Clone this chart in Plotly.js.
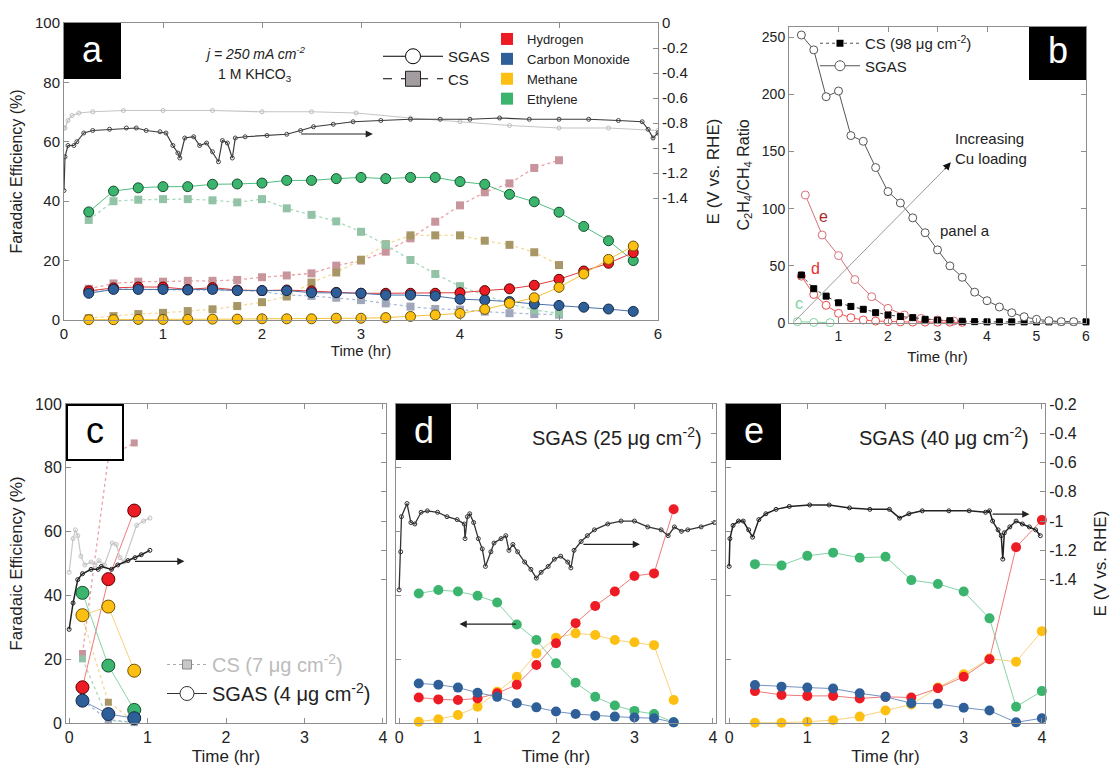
<!DOCTYPE html>
<html><head><meta charset="utf-8">
<script src="https://cdn.plot.ly/plotly-3.0.1.min.js"></script>
<style>html,body{margin:0;padding:0;background:#fff}#chart{width:1110px;height:771px}</style>
</head><body><div id="chart"></div>
<script>
// ---------------- DATA ----------------
// Panel a: SGAS (circles) and CS (squares) Faradaic efficiencies (%)
const tA_sgas = [0.25,0.5,0.75,1.0,1.25,1.5,1.75,2.0,2.25,2.5,2.75,3.0,3.25,3.5,3.75,4.0,4.25,4.5,4.75,5.0,5.25,5.5,5.75];
const feA_sgas_h2   = [9.8,10.8,11.1,11.1,10.3,10.9,10.1,9.9,10.1,9.8,9.3,9.0,9.0,9.0,9.0,9.2,9.9,10.5,11.7,13.7,16.5,19.1,22.7];
const feA_sgas_co   = [9.0,10.3,10.3,10.3,10.1,10.3,9.9,9.9,9.9,9.2,9.2,9.0,8.4,8.4,8.1,7.0,6.7,6.2,5.4,4.9,4.3,3.7,2.9];
const feA_sgas_ch4  = [0.1,0.1,0.2,0.2,0.2,0.3,0.3,0.4,0.4,0.4,0.6,0.6,0.8,1.2,1.7,2.2,3.6,5.6,7.5,11.0,15.5,20.4,24.9];
const feA_sgas_c2h4 = [36.4,43.4,44.5,44.9,44.9,45.7,45.8,46.1,47.0,47.0,47.6,48.0,47.6,48.0,48.0,46.6,45.7,42.3,39.8,36.3,31.5,26.7,20.0];
const tA_cs = [0.25,0.5,0.75,1.0,1.25,1.5,1.75,2.0,2.25,2.5,2.75,3.0,3.25,3.5,3.75,4.0,4.25,4.5,4.75,5.0];
const feA_cs_h2   = [10.5,12.3,12.9,12.9,13.2,13.2,13.5,14.4,15.0,15.7,18.3,20.0,23.0,27.5,33.1,38.6,43.0,46.0,51.2,53.8];
const feA_cs_co   = [9.6,10.5,10.3,10.1,10.1,10.1,10.1,9.6,8.4,8.1,7.5,6.7,5.6,4.5,3.7,3.5,2.8,2.3,2.0,1.8];
const feA_cs_ch4  = [0.6,1.3,2.0,2.4,3.0,3.6,4.7,6.0,7.9,12.6,16.0,20.3,25.5,28.5,28.5,28.5,26.7,25.3,22.8,18.5];
const feA_cs_c2h4 = [33.7,40.0,40.5,40.7,40.7,40.3,39.6,40.7,37.6,35.4,33.2,29.7,25.3,20.2,15.5,11.4,8.4,5.4,3.4,2.2];
// Panel a: potentials (V vs RHE)
const tA_E_sgas = [0,0.01,0.04,0.1,0.13,0.2,0.29,0.46,0.63,0.73,0.83,0.97,1.03,1.1,1.15,1.17,1.22,1.31,1.37,1.44,1.5,1.56,1.6,1.65,1.7,1.73,1.83,2.05,2.25,2.39,2.52,2.72,2.92,3.2,3.5,3.8,4.1,4.4,4.7,5.0,5.3,5.6,5.84,5.9,5.95,6.0];
const eA_sgas = [-1.34,-1.07,-0.98,-0.98,-0.95,-0.88,-0.86,-0.85,-0.84,-0.84,-0.86,-0.87,-0.88,-0.98,-1.04,-1.08,-0.92,-0.91,-0.98,-0.96,-1.03,-1.11,-0.94,-0.96,-1.08,-0.92,-0.91,-0.90,-0.89,-0.86,-0.83,-0.81,-0.79,-0.78,-0.77,-0.77,-0.77,-0.76,-0.77,-0.77,-0.77,-0.78,-0.79,-0.85,-0.92,-0.88];
const tA_E_cs = [0,0.01,0.04,0.08,0.15,0.29,0.6,1.0,1.5,2.0,2.5,2.95,3.5,4.0,4.5,5.0,5.5,6.0];
const eA_cs = [-0.84,-0.84,-0.78,-0.74,-0.72,-0.71,-0.70,-0.70,-0.70,-0.71,-0.71,-0.72,-0.76,-0.79,-0.82,-0.84,-0.84,-0.86];
const eA_ticks = [0,-0.2,-0.4,-0.6,-0.8,-1,-1.2,-1.4];
const eA_tickText = ['0','-0.2','-0.4','-0.6','-0.8','-1','-1.2','-1.4'];

// Panel b: C2H4/CH4 ratio
const tB_cs = [0.25,0.5,0.75,1.0,1.25,1.5,1.75,2.0,2.25,2.5,2.75,3.0,3.25,3.5,3.75,4.0,4.25,4.5,4.75,5.0,5.25,5.5,5.75,6.0];
const ratioB_cs = [42,30,23.5,17.7,14.5,12,9,7,5.7,4.7,3.2,2.5,2.0,1.5,1.2,1,1,1,1,1,1,1,1,1];
const tB_sgas = [0.25,0.5,0.75,1.0,1.25,1.5,1.75,2.0,2.25,2.5,2.75,3.0,3.25,3.5,3.75,4.0,4.25,4.5,4.75,5.0,5.25,5.5,5.75];
const ratioB_sgas = [252,239,198,203,164,159,136,115,105,92,79,64,50,40,27,19.5,14,9,5.5,3.2,2,1.2,1.2];
const tB_e = [0.33,0.67,1.0,1.33,1.67,2.0,2.33,2.67,3.0,3.33];
const ratioB_e = [112,77,59,38,23,12.8,7,4,2.6,1.7];
const tB_d = [0.25,0.5,0.75,1.0,1.25,1.5,1.75,2.0,2.25,2.5,2.75,3.0,3.25,3.5];
const ratioB_d = [41,25,15.5,8.5,4.6,2.6,1.7,1.2,1.0,0.8,0.8,0.7,0.7,0.6];
const tB_c = [0.17,0.5,0.83];
const ratioB_c = [1.2,0.5,0.3];

// Panel c: SGAS (4 ug) and CS (7 ug)
const tC = [0.17,0.5,0.83];
const feC_sgas_h2 = [11.2,45.1,66.6];
const feC_sgas_co = [7.0,2.8,1.5];
const feC_sgas_ch4 = [33.8,36.5,16.4];
const feC_sgas_c2h4 = [40.8,18.0,4.1];
const feC_cs_h2 = [21.8,83.3,87.8];
const feC_cs_co = [7.0,1.0,0.2];
const feC_cs_ch4 = [33.0,6.5,0.5];
const feC_cs_c2h4 = [20.1,0.8,0.1];
const tC_E_sgas = [0,0.05,0.11,0.17,0.28,0.37,0.41,0.54,0.62,0.75,0.84,0.92,1.03];
const eC_sgas = [-1.74,-1.56,-1.40,-1.36,-1.33,-1.33,-1.31,-1.33,-1.30,-1.27,-1.25,-1.23,-1.20];
const tC_E_cs = [0,0.05,0.08,0.11,0.15,0.2,0.28,0.33,0.38,0.45,0.55,0.6,0.65,0.7,0.86,0.95,1.03];
const eC_cs = [-1.35,-1.12,-1.06,-1.10,-1.24,-1.30,-1.28,-1.30,-1.27,-1.30,-1.15,-1.16,-1.25,-1.28,-1.03,-1.00,-0.98];

// Panel d: SGAS (25 ug)
const tD = [0.25,0.5,0.75,1.0,1.25,1.5,1.75,2.0,2.25,2.5,2.75,3.0,3.25,3.5];
const feD_h2 = [8.0,7.4,7.2,7.7,9.3,12.0,18.2,25.0,31.3,36.7,41.2,46.1,46.9,67.0];
const feD_co = [12.4,12.0,11.1,9.5,8.2,6.2,4.9,3.6,2.8,2.3,2.0,1.7,1.5,0.2];
const feD_ch4 = [0.4,1.2,2.5,5.1,9.8,14.5,21.8,26.7,28.1,27.6,26.0,25.3,24.4,7.2];
const feD_c2h4 = [40.6,41.7,41.2,39.9,37.8,30.9,26.0,18.7,12.6,8.2,5.5,3.8,2.8,0.2];
const tD_E = [0,0.02,0.03,0.1,0.15,0.2,0.28,0.36,0.49,0.61,0.74,0.83,0.84,0.87,0.9,0.95,1.01,1.06,1.1,1.17,1.21,1.3,1.36,1.4,1.45,1.51,1.6,1.68,1.75,1.81,1.9,1.98,2.06,2.15,2.19,2.23,2.32,2.4,2.49,2.66,2.83,3.0,3.17,3.34,3.43,3.51,3.6,3.68,3.85,4.02];
const eD = [-1.47,-1.21,-0.97,-0.88,-1.01,-1.02,-0.94,-0.93,-0.94,-0.97,-0.99,-1.02,-1.12,-0.97,-0.95,-1.01,-1.12,-1.19,-1.31,-1.21,-1.15,-1.12,-1.10,-1.20,-1.16,-1.21,-1.28,-1.33,-1.39,-1.35,-1.31,-1.26,-1.24,-1.28,-1.32,-1.20,-1.14,-1.10,-1.06,-1.02,-1.00,-1.00,-1.04,-1.06,-1.10,-1.04,-1.07,-1.06,-1.04,-1.01];

// Panel e: SGAS (40 ug)
const tE = [0.33,0.67,1.0,1.33,1.67,2.0,2.33,2.67,3.0,3.33,3.67,4.0];
const feE_h2 = [10.0,8.8,8.5,8.5,7.7,8.2,8.0,10.9,14.5,20.0,55.1,63.6];
const feE_co = [11.9,11.4,11.1,10.8,9.3,8.2,6.2,6.0,4.8,3.9,0.2,1.5];
const feE_ch4 = [0.1,0.1,0.4,0.9,2.0,3.9,5.8,11.1,15.3,20.2,19.2,28.8];
const feE_c2h4 = [49.8,49.4,52.4,53.4,51.8,52.1,44.8,43.6,41.2,32.8,5.1,10.0];
const tE_E = [0,0.01,0.05,0.12,0.18,0.25,0.3,0.38,0.47,0.6,0.77,1.03,1.28,1.54,1.8,2.05,2.18,2.3,2.47,2.81,3.07,3.28,3.33,3.37,3.44,3.48,3.5,3.52,3.59,3.67,3.75,3.84,3.92,3.98];
const eE = [-1.31,-1.12,-1.03,-1.00,-1.00,-1.06,-1.11,-0.99,-0.95,-0.92,-0.90,-0.89,-0.89,-0.91,-0.92,-0.92,-0.98,-0.95,-0.93,-0.93,-0.93,-0.94,-0.93,-1.00,-1.06,-1.10,-1.26,-1.08,-1.04,-1.00,-1.02,-1.04,-1.06,-1.10];
const eCDE_ticks = [-0.2,-0.4,-0.6,-0.8,-1,-1.2,-1.4];
const eCDE_tickText = ['-0.2','-0.4','-0.6','-0.8','-1','-1.2','-1.4'];

const productNames = ['Hydrogen','Carbon Monoxide','Methane','Ethylene'];

// ---------------- STYLE ----------------
const F = 'Liberation Sans, Arial, Helvetica, sans-serif';
const W = 1110, H = 771;
const dx = (a,b) => [a/W, b/W];
const dy = (top,bot) => [1-bot/H, 1-top/H];
const px = x => x/W, py = y => 1-y/H;

const COL = {h2:'#ed1c24', co:'#2f5f98', ch4:'#fdbf12', c2h4:'#3bb56e'};
const EDGE = {h2:'#5a0000', co:'#15294a', ch4:'#6e5200', c2h4:'#15502e'};
const LINE = {h2:'#e23a3a', co:'#4a74aa', ch4:'#f2c33a', c2h4:'#4fbf80'};
const LIGHTLINE = {h2:'#f07a7a', co:'#7391c0', ch4:'#f7d27a', c2h4:'#86d3a6'};
const CSFILL = {h2:'#c9959c', co:'#a0a7ba', ch4:'#a89766', c2h4:'#93c3a6'};
const CSLINE = {h2:'#eba0a4', co:'#a8bcd8', ch4:'#f3d994', c2h4:'#a6d9bb'};

const traces = [];
function pot(x,y,xa,ya,col,mcol,w){
  traces.push({type:'scatter',mode:'lines+markers',x:x,y:y,xaxis:xa,yaxis:ya,
    line:{color:col,width:w||1.2},marker:{symbol:'circle-open',size:4,color:mcol,line:{width:1}},
    showlegend:false,hoverinfo:'skip'});
}
function sgas(x,y,xa,ya,k,size,edge,lc){
  traces.push({type:'scatter',mode:'lines+markers',x:x,y:y,xaxis:xa,yaxis:ya,cliponaxis:false,
    line:{color:lc,width:1},marker:{symbol:'circle',size:size,color:COL[k],line:{color:edge?EDGE[k]:COL[k],width:edge?1:0}},
    showlegend:false});
}
function cs(x,y,xa,ya,k,size){
  traces.push({type:'scatter',mode:'lines+markers',x:x,y:y,xaxis:xa,yaxis:ya,cliponaxis:false,
    line:{color:CSLINE[k],width:1.3,dash:'dot'},marker:{symbol:'square',size:size,color:CSFILL[k],line:{color:CSFILL[k],width:0}},
    showlegend:false});
}

// Panel a
pot(tA_E_cs,eA_cs,'x','y2','#c4c4c4','#bdbdbd',1.2);
pot(tA_E_sgas,eA_sgas,'x','y2','#3a3a3a','#444',1.2);
cs(tA_cs,feA_cs_h2,'x','y','h2',8);
cs(tA_cs,feA_cs_co,'x','y','co',8);
cs(tA_cs,feA_cs_ch4,'x','y','ch4',8);
cs(tA_cs,feA_cs_c2h4,'x','y','c2h4',8);
sgas(tA_sgas,feA_sgas_c2h4,'x','y','c2h4',10,true,LINE.c2h4);
sgas(tA_sgas,feA_sgas_h2,'x','y','h2',10,true,LINE.h2);
sgas(tA_sgas,feA_sgas_co,'x','y','co',10,true,LINE.co);
sgas(tA_sgas,feA_sgas_ch4,'x','y','ch4',10,true,LINE.ch4);

// Panel b
function ratio(x,y,sym,size,col,fill,dash,lc){
  traces.push({type:'scatter',mode:'lines+markers',x:x,y:y,xaxis:'x2',yaxis:'y3',cliponaxis:false,
    line:{color:lc,width:1,dash:dash},marker:{symbol:sym,size:size,color:fill,line:{color:col,width:1}},showlegend:false});
}
ratio(tB_c,ratioB_c,'circle',8,'#7fd3a2','#fff','solid','#7fd3a2');
ratio(tB_e,ratioB_e,'circle',8,'#d8707a','#fff','solid','#d8707a');
ratio(tB_d,ratioB_d,'circle',8,'#ea4a4a','#fff','solid','#ea5a5a');
ratio(tB_cs,ratioB_cs,'square',6,'#000','#000','dot','#444');
ratio(tB_sgas,ratioB_sgas,'circle',8,'#555','#fff','solid','#555');

// Panel c
pot(tC_E_cs,eC_cs,'x3','y5','#c8c8c8','#c0c0c0',1.2);
pot(tC_E_sgas,eC_sgas,'x3','y5','#222','#222',1.5);
cs(tC,feC_cs_h2,'x3','y4','h2',7);
cs(tC,feC_cs_c2h4,'x3','y4','c2h4',7);
cs(tC,feC_cs_ch4,'x3','y4','ch4',7);
cs(tC,feC_cs_co,'x3','y4','co',7);
sgas(tC,feC_sgas_h2,'x3','y4','h2',13,true,LIGHTLINE.h2);
sgas(tC,feC_sgas_c2h4,'x3','y4','c2h4',13,true,LIGHTLINE.c2h4);
sgas(tC,feC_sgas_ch4,'x3','y4','ch4',13,true,LIGHTLINE.ch4);
sgas(tC,feC_sgas_co,'x3','y4','co',13,true,LIGHTLINE.co);

// Panel d
pot(tD_E,eD,'x4','y7','#333','#333',1.3);
sgas(tD,feD_c2h4,'x4','y6','c2h4',10,false,LIGHTLINE.c2h4);
sgas(tD,feD_ch4,'x4','y6','ch4',10,false,LIGHTLINE.ch4);
sgas(tD,feD_h2,'x4','y6','h2',10,false,LIGHTLINE.h2);
sgas(tD,feD_co,'x4','y6','co',10,false,LIGHTLINE.co);

// Panel e
pot(tE_E,eE,'x5','y9','#222','#222',1.5);
sgas(tE,feE_c2h4,'x5','y8','c2h4',10,false,LIGHTLINE.c2h4);
sgas(tE,feE_ch4,'x5','y8','ch4',10,false,LIGHTLINE.ch4);
sgas(tE,feE_h2,'x5','y8','h2',10,false,LIGHTLINE.h2);
sgas(tE,feE_co,'x5','y8','co',10,false,LIGHTLINE.co);

// Legend entries
traces.push({type:'scatter',mode:'lines+markers',x:[null],y:[null],name:'SGAS',legend:'legend',
  line:{color:'#000',width:1},marker:{symbol:'circle',size:15,color:'#fff',line:{color:'#000',width:1}}});
traces.push({type:'scatter',mode:'lines+markers',x:[null],y:[null],name:'CS',legend:'legend',
  line:{color:'#000',width:1,dash:'dash'},marker:{symbol:'square',size:15,color:'#a39ca0',line:{color:'#222',width:1}}});
const legKeys = ['h2','co','ch4','c2h4'];
productNames.forEach((n,i)=>{
  traces.push({type:'scatter',mode:'markers',x:[null],y:[null],name:n,legend:'legend2',
    marker:{symbol:'square',size:15,color:COL[legKeys[i]]}});
});
traces.push({type:'scatter',mode:'lines+markers',x:[null],y:[null],xaxis:'x2',yaxis:'y3',name:'CS (98 μg cm<sup>-2</sup>)',legend:'legend3',
  line:{color:'#555',width:1.2,dash:'dot'},marker:{symbol:'square',size:7,color:'#000'}});
traces.push({type:'scatter',mode:'lines+markers',x:[null],y:[null],xaxis:'x2',yaxis:'y3',name:'SGAS',legend:'legend3',
  line:{color:'#555',width:1},marker:{symbol:'circle',size:10,color:'#fff',line:{color:'#555',width:1}}});
traces.push({type:'scatter',mode:'lines+markers',x:[null],y:[null],xaxis:'x3',yaxis:'y4',name:'<span style="color:#bcbcbc">CS (7 μg cm<sup>-2</sup>)</span>',legend:'legend4',
  line:{color:'#aaa',width:1,dash:'dot'},marker:{symbol:'square',size:9,color:'#c8c8c8',line:{color:'#888',width:1}}});
traces.push({type:'scatter',mode:'lines+markers',x:[null],y:[null],xaxis:'x3',yaxis:'y4',name:'SGAS (4 μg cm<sup>-2</sup>)',legend:'legend4',
  line:{color:'#333',width:1},marker:{symbol:'circle',size:14,color:'#fff',line:{color:'#333',width:1}}});

// ---------------- AXES ----------------
const base = {showline:true,linecolor:'#8d8d8d',linewidth:1,ticks:'inside',ticklen:5,tickcolor:'#8d8d8d',
  showgrid:false,zeroline:false,tickfont:{family:F,size:15,color:'#222'},fixedrange:true};
const tfont = s => ({family:F,size:s,color:'#222'});
function A(o){return Object.assign({},base,o);}
function lab(x,y,t,size,color,xa){
  return {xref:'paper',yref:'paper',x:px(x),y:py(y),xanchor:xa||'center',yanchor:'middle',text:t,showarrow:false,font:{family:F,size:size,color:color}};
}

const layout = {
  width:W,height:H,autosize:false,margin:{l:0,r:0,t:0,b:0},paper_bgcolor:'#fff',plot_bgcolor:'rgba(0,0,0,0)',
  font:{family:F,color:'#222'},showlegend:true,hovermode:false,
  // panel a
  xaxis:A({domain:dx(64,658),anchor:'y',range:[0,6],tickvals:[0,1,2,3,4,5,6],mirror:'ticks',
    title:{text:'Time (hr)',font:tfont(15),standoff:2}}),
  yaxis:A({domain:dy(23,320),anchor:'x',range:[0,100],tickvals:[0,20,40,60,80,100],
    title:{text:'Faradaic Efficiency (%)',font:tfont(16),standoff:8}}),
  yaxis2:A({overlaying:'y',side:'right',anchor:'x',range:[-2.376,0],tickvals:eA_ticks,ticktext:eA_tickText,
    title:{text:'E (V vs. RHE)',font:tfont(17),standoff:20}}),
  // panel b
  xaxis2:A({domain:dx(789,1086),anchor:'y3',range:[0,6],tickvals:[1,2,3,4,5,6],mirror:'ticks',tickfont:tfont(14),
    title:{text:'Time (hr)',font:tfont(15),standoff:8}}),
  yaxis3:A({domain:dy(27,323),anchor:'x2',range:[0,259],tickvals:[0,50,100,150,200,250],mirror:'ticks',tickfont:tfont(14),
    title:{text:'C<sub>2</sub>H<sub>4</sub>/CH<sub>4</sub> Ratio',font:tfont(16),standoff:8}}),
  // panel c
  xaxis3:A({domain:dx(66,386),anchor:'y4',range:[-0.04,4.04],tickvals:[0,1,2,3,4],mirror:'ticks',tickfont:tfont(16),
    title:{text:'Time (hr)',font:tfont(17),standoff:4}}),
  yaxis4:A({domain:dy(404,723),anchor:'x3',range:[0,100],tickvals:[0,20,40,60,80,100],tickfont:tfont(16),
    title:{text:'Faradaic Efficiency (%)',font:tfont(17),standoff:8}}),
  yaxis5:A({overlaying:'y4',side:'right',anchor:'x3',range:[-2.38,-0.2],tickvals:eCDE_ticks,showticklabels:false}),
  // panel d
  xaxis4:A({domain:dx(396,716),anchor:'y6',range:[-0.04,4.04],tickvals:[0,1,2,3,4],mirror:'ticks',tickfont:tfont(16),
    title:{text:'Time (hr)',font:tfont(17),standoff:4}}),
  yaxis6:A({domain:dy(404,723),anchor:'x4',range:[0,100],tickvals:[0,20,40,60,80,100],showticklabels:false}),
  yaxis7:A({overlaying:'y6',side:'right',anchor:'x4',range:[-2.38,-0.2],tickvals:eCDE_ticks,showticklabels:false}),
  // panel e
  xaxis5:A({domain:dx(726,1045),anchor:'y8',range:[-0.04,4.04],tickvals:[0,1,2,3,4],mirror:'ticks',tickfont:tfont(16),
    title:{text:'Time (hr)',font:tfont(17),standoff:4}}),
  yaxis8:A({domain:dy(404,723),anchor:'x5',range:[0,100],tickvals:[0,20,40,60,80,100],showticklabels:false}),
  yaxis9:A({overlaying:'y8',side:'right',anchor:'x5',range:[-2.38,-0.2],tickvals:eCDE_ticks,ticktext:eCDE_tickText,tickfont:tfont(16),
    title:{text:'E (V vs. RHE)',font:tfont(17),standoff:20}}),
  legend:{x:px(378),y:py(40),xanchor:'left',yanchor:'top',bgcolor:'rgba(0,0,0,0)',font:{family:F,size:15,color:'#222'},itemwidth:60,tracegroupgap:0},
  legend2:{x:px(487),y:py(24),xanchor:'left',yanchor:'top',bgcolor:'rgba(0,0,0,0)',font:{family:F,size:13,color:'#222'},itemwidth:30,itemsizing:'constant'},
  legend3:{x:px(815),y:py(27),xanchor:'left',yanchor:'top',bgcolor:'rgba(0,0,0,0)',font:{family:F,size:15,color:'#222'},itemwidth:40},
  legend4:{x:px(162),y:py(645),xanchor:'left',yanchor:'top',bgcolor:'rgba(0,0,0,0)',font:{family:F,size:20,color:'#222'},itemwidth:40},
  shapes:[
    {type:'rect',xref:'paper',yref:'paper',x0:px(64),x1:px(121),y0:py(79),y1:py(23),fillcolor:'#000',line:{width:0}},
    {type:'rect',xref:'paper',yref:'paper',x0:px(1029),x1:px(1086),y0:py(80),y1:py(27),fillcolor:'#000',line:{width:0}},
    {type:'rect',xref:'paper',yref:'paper',x0:px(67),x1:px(123),y0:py(460),y1:py(405),fillcolor:'#fff',line:{color:'#000',width:2}},
    {type:'rect',xref:'paper',yref:'paper',x0:px(396),x1:px(451),y0:py(460),y1:py(404),fillcolor:'#000',line:{width:0}},
    {type:'rect',xref:'paper',yref:'paper',x0:px(726),x1:px(781),y0:py(460),y1:py(404),fillcolor:'#000',line:{width:0}}
  ],
  annotations:[
    lab(92.5,49,'a',36,'#fff'),
    lab(1057.5,51,'b',36,'#fff'),
    lab(95,430,'c',36,'#000'),
    lab(423.5,430,'d',36,'#fff'),
    lab(753.5,430,'e',36,'#fff'),
    lab(255,53,'<i>j = 250 mA cm<sup>-2</sup></i>',14,'#222'),
    lab(255,75,'1 M KHCO<sub>3</sub>',14,'#222'),
    lab(704,436,'SGAS (25 μg cm<sup>-2</sup>)',20,'#222','right'),
    lab(1031,436,'SGAS (40 μg cm<sup>-2</sup>)',20,'#222','right'),
    // arrows
    {xref:'x',yref:'y2',axref:'x',ayref:'y2',x:3.12,y:-0.888,ax:2.38,ay:-0.888,text:'',showarrow:true,arrowhead:2,arrowsize:1.2,arrowwidth:1.2,arrowcolor:'#222'},
    {xref:'x3',yref:'y5',axref:'x3',ayref:'y5',x:1.47,y:-1.275,ax:0.82,ay:-1.275,text:'',showarrow:true,arrowhead:2,arrowsize:1.2,arrowwidth:1.2,arrowcolor:'#222'},
    {xref:'x4',yref:'y7',axref:'x4',ayref:'y7',x:3.07,y:-1.159,ax:2.33,ay:-1.159,text:'',showarrow:true,arrowhead:2,arrowsize:1.2,arrowwidth:1.2,arrowcolor:'#222'},
    {xref:'x4',yref:'y6',axref:'x4',ayref:'y6',x:0.77,y:31,ax:1.51,ay:31,text:'',showarrow:true,arrowhead:2,arrowsize:1.2,arrowwidth:1.2,arrowcolor:'#222'},
    {xref:'x5',yref:'y9',axref:'x5',ayref:'y9',x:3.84,y:-0.953,ax:3.35,ay:-0.953,text:'',showarrow:true,arrowhead:2,arrowsize:1.2,arrowwidth:1.2,arrowcolor:'#222'},
    {xref:'x2',yref:'y3',axref:'x2',ayref:'y3',x:3.2,y:137,ax:0.08,ay:0,text:'',showarrow:true,arrowhead:0,arrowwidth:1,arrowcolor:'#9a9a9a'},
    {xref:'x2',yref:'y3',axref:'x2',ayref:'y3',x:3.27,y:140.7,ax:3.12,ay:133.4,text:'',showarrow:true,arrowhead:2,arrowsize:1.3,arrowwidth:1.2,arrowcolor:'#111'},
    {xref:'x2',yref:'y3',x:3.31,y:153,xanchor:'left',yanchor:'middle',text:'Increasing<br>Cu loading',align:'left',showarrow:false,font:{family:F,size:15,color:'#222'}},
    {xref:'x2',yref:'y3',x:3.0,y:81,xanchor:'left',yanchor:'middle',text:'panel a',showarrow:false,font:{family:F,size:15,color:'#222'}},
    {xref:'x2',yref:'y3',x:0.70,y:93,text:'e',showarrow:false,font:{family:F,size:16,color:'#a8282c'}},
    {xref:'x2',yref:'y3',x:0.54,y:48,text:'d',showarrow:false,font:{family:F,size:16,color:'#e83030'}},
    {xref:'x2',yref:'y3',x:0.2,y:17.5,text:'c',showarrow:false,font:{family:F,size:16,color:'#7fd3a2'}}
  ]
};

Plotly.newPlot('chart',traces,layout,{staticPlot:true,displayModeBar:false});
</script></body></html>
